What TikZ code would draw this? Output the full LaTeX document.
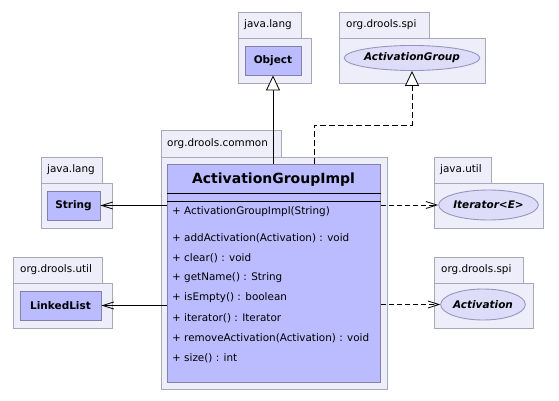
\documentclass[tikz,border=0pt]{standalone}
\usepackage{fontspec}
\setmainfont{DejaVu Sans}
\usetikzlibrary{arrows.meta,shapes.geometric}
\definecolor{pkgfill}{RGB}{238,238,250}
\definecolor{pkgdraw}{RGB}{168,168,184}
\definecolor{clsfill}{RGB}{187,187,255}
\definecolor{clsdraw}{RGB}{128,128,168}
\definecolor{ifcfill}{RGB}{221,221,250}
\definecolor{ifcdraw}{RGB}{150,150,190}
\begin{document}
\begin{tikzpicture}[x=1pt,y=-1pt,
  pkgbox/.style={draw=pkgdraw, fill=pkgfill, line width=0.9pt, inner sep=0pt, anchor=north west},
  pkglabel/.style={anchor=west, inner sep=0pt, font=\fontsize{10.4}{12}\selectfont},
  clsbox/.style={draw=clsdraw, fill=clsfill, line width=0.9pt, inner sep=0pt, font=\fontsize{10.5}{12}\selectfont\bfseries},
  ifcbox/.style={ellipse, draw=ifcdraw, fill=ifcfill, line width=0.9pt, inner sep=0pt, font=\fontsize{10.5}{12}\selectfont\bfseries\itshape},
  member/.style={anchor=west, inner sep=0pt, font=\fontsize{10.4}{12}\selectfont},
  gen/.style={line width=0.8pt, -{Triangle[open, length=15pt, width=14pt, fill=white]}},
  assoc/.style={line width=0.8pt, -{Straight Barb[length=11pt, width=7pt]}},
  depend/.style={line width=0.8pt, dash pattern=on 5pt off 3pt, -{Straight Barb[length=11pt, width=7pt]}},
  realize/.style={line width=0.8pt, dash pattern=on 6pt off 3pt, -{Triangle[open, length=15pt, width=14pt, fill=white]}}
]
\useasboundingbox (0,0) rectangle (559,401);

% java.lang (Object)
\node[pkgbox, minimum width=63pt, minimum height=26pt] (p1tab) at (238,12) {};
\node[pkgbox, minimum width=73pt, minimum height=45pt] (p1body) at (238,38) {};
\node[pkglabel] (p1lbl) at (244,25) {java.lang};
\node[clsbox, minimum width=56pt, minimum height=29pt] (obj) at (273,60.5) {Object};

% org.drools.spi (ActivationGroup)
\node[pkgbox, minimum width=90pt, minimum height=26pt] (p2tab) at (339,12) {};
\node[pkgbox, minimum width=146pt, minimum height=45pt] (p2body) at (339,38) {};
\node[pkglabel] (p2lbl) at (346,25) {org.drools.spi};
\node[ifcbox, minimum width=132pt, minimum height=25pt] (ag) at (412,58) {ActivationGroup};

% org.drools.common (ActivationGroupImpl)
\node[pkgbox, minimum width=120pt, minimum height=27pt] (p3tab) at (161,130) {};
\node[pkgbox, minimum width=226pt, minimum height=232pt] (p3body) at (161,157) {};
\node[pkglabel] (p3lbl) at (167,143.5) {org.drools.common};
\node[draw=clsdraw, fill=clsfill, line width=0.9pt, inner sep=0pt, anchor=north west,
      minimum width=213pt, minimum height=218pt] (impl) at (167,164) {};
\node[inner sep=0pt, font=\fontsize{14}{16}\selectfont\bfseries] (title) at (273.5,180) {ActivationGroupImpl};
\draw[line width=0.9pt] ([yshift=-29pt]impl.north west) -- ([yshift=-29pt]impl.north east);
\draw[line width=0.9pt] ([yshift=-37pt]impl.north west) -- ([yshift=-37pt]impl.north east);
\node[member] (m0) at (172,212) {+ ActivationGroupImpl(String)};
\node[member] (m1) at (172,238) {+ addActivation(Activation) : void};
\node[member] (m2) at (172,258) {+ clear() : void};
\node[member] (m3) at (172,278) {+ getName() : String};
\node[member] (m4) at (172,298) {+ isEmpty() : boolean};
\node[member] (m5) at (172,318) {+ iterator() : Iterator};
\node[member] (m6) at (172,338) {+ removeActivation(Activation) : void};
\node[member] (m7) at (172,358) {+ size() : int};

% java.lang (String)
\node[pkgbox, minimum width=61pt, minimum height=26pt] (p4tab) at (41,157) {};
\node[pkgbox, minimum width=71pt, minimum height=45pt] (p4body) at (41,183) {};
\node[pkglabel] (p4lbl) at (47,170) {java.lang};
\node[clsbox, minimum width=53pt, minimum height=29pt] (str) at (73.5,205.5) {String};

% org.drools.util (LinkedList)
\node[pkgbox, minimum width=89pt, minimum height=26pt] (p5tab) at (13,257) {};
\node[pkgbox, minimum width=99pt, minimum height=45pt] (p5body) at (13,283) {};
\node[pkglabel] (p5lbl) at (20,270) {org.drools.util};
\node[clsbox, minimum width=81pt, minimum height=29pt] (ll) at (60.5,305.5) {LinkedList};

% java.util (Iterator)
\node[pkgbox, minimum width=57pt, minimum height=26pt] (p6tab) at (434,157) {};
\node[pkgbox, minimum width=109pt, minimum height=45pt] (p6body) at (434,183) {};
\node[pkglabel] (p6lbl) at (440,170) {java.util};
\node[ifcbox, minimum width=95pt, minimum height=30pt] (it) at (488.5,205) {Iterator<E>};

% org.drools.spi (Activation)
\node[pkgbox, minimum width=89pt, minimum height=26pt] (p7tab) at (434,257) {};
\node[pkgbox, minimum width=99pt, minimum height=45pt] (p7body) at (434,283) {};
\node[pkglabel] (p7lbl) at (441,270) {org.drools.spi};
\node[ifcbox, minimum width=82pt, minimum height=31pt] (act) at (483,304.5) {Activation};

% connectors
\draw[gen] (impl.north -| obj.south) -- (obj.south);
\coordinate (bend) at (314,125);
\draw[realize] (impl.north -| bend) -- (bend) -| (ag.south);
\draw[assoc] (impl.west |- str) -- (str.east);
\draw[assoc] (impl.west |- ll) -- (ll.east);
\draw[depend] (impl.east |- it) -- (it.west);
\draw[depend] (impl.east |- act) -- (act.west);
\end{tikzpicture}
\end{document}
